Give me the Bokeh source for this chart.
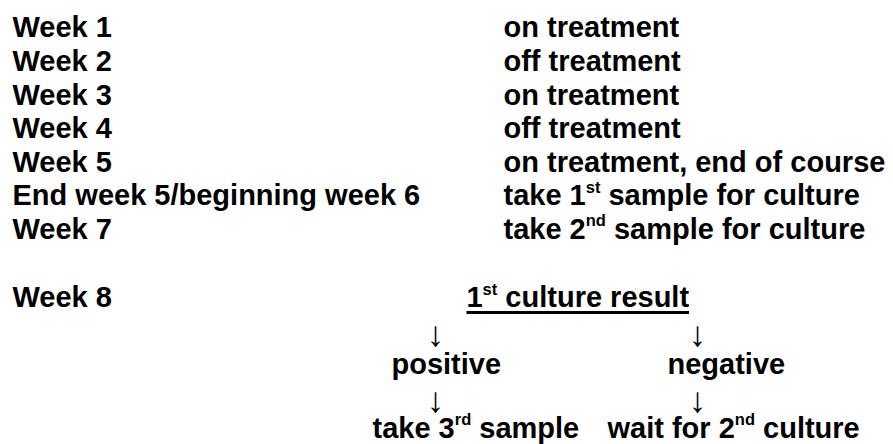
import re
from bokeh.plotting import figure
from bokeh.models import Range1d, ColumnDataSource
from bokeh.core.properties import value
from bokeh.embed import file_html
from bokeh.resources import INLINE

# ---------------- content ----------------
week_labels = ["Week 1", "Week 2", "Week 3", "Week 4", "Week 5",
               "End week 5/beginning week 6", "Week 7"]
week_events = ["on treatment", "off treatment", "on treatment", "off treatment",
               "on treatment, end of course",
               "take 1^{st} sample for culture",
               "take 2^{nd} sample for culture"]
week8_label = "Week 8"
result_title = "1^{st} culture result"
outcomes = ["positive", "negative"]
next_steps = ["take 3^{rd} sample", "wait for 2^{nd} culture"]
arrow = "\u2193"

# ---------------- layout / style ----------------
W, H = 893, 444
FONT = "Liberation Sans"
SIZE = 29
SUP_SIZE = 16.5
SUP_RISE = 13
ARROW_SIZE = 35
MID = 0.3465          # text anchor sits this many em above the drawn baseline
LEFT_X = 12
RIGHT_X = 503
ROW0 = 37
ROW_DY = 33.6
WEEK8_Y = 307
TITLE_X = 466
ARROW_X = [435, 697]
ARROW_Y = [332.5, 398.5]
OUTCOME_X = [391, 667]
OUTCOME_Y = 374
STEP_X = [372, 607]
STEP_Y = 437.5

# Arial/Liberation Sans Bold advance widths (per 1000 em)
ADV = {" ": 278, ",": 278, "/": 278,
       "a": 556, "b": 611, "c": 556, "d": 611, "e": 556, "f": 333, "g": 611,
       "h": 611, "i": 278, "k": 556, "l": 278, "m": 889, "n": 611, "o": 611,
       "p": 611, "r": 389, "s": 556, "t": 333, "u": 611, "v": 556, "w": 778,
       "E": 667, "W": 944}


def adv(s, size):
    return sum(ADV.get(c, 556) for c in s) * size / 1000.0


def segments(txt):
    parts = re.split(r"\^\{([^}]*)\}", txt)
    return [(p_, i % 2 == 1) for i, p_ in enumerate(parts) if p_]


main = dict(x=[], y=[], text=[])
sup = dict(x=[], y=[], text=[])


def place(txt, x, baseline):
    for t, s in segments(txt):
        size = SUP_SIZE if s else SIZE
        stripped = t.lstrip(" ")
        x += adv(t[:len(t) - len(stripped)], size)
        d = sup if s else main
        b = baseline - SUP_RISE if s else baseline
        d["x"].append(x)
        d["y"].append(b - MID * size)
        d["text"].append(stripped)
        x += adv(stripped, size)
    return x


for i, (lab, ev) in enumerate(zip(week_labels, week_events)):
    y = ROW0 + i * ROW_DY
    place(lab, LEFT_X, y)
    place(ev, RIGHT_X, y)

place(week8_label, LEFT_X, WEEK8_Y)
title_end = place(result_title, TITLE_X, WEEK8_Y)
for txt, x in zip(outcomes, OUTCOME_X):
    place(txt, x, OUTCOME_Y)
for txt, x in zip(next_steps, STEP_X):
    place(txt, x, STEP_Y)

p = figure(width=W, height=H, x_range=Range1d(0, W), y_range=Range1d(H, 0),
           x_axis_type=None, y_axis_type=None, toolbar_location=None, title=None,
           output_backend="svg", min_border=0, outline_line_color=None,
           background_fill_color="white", border_fill_color="white")
p.grid.visible = False

p.text(x="x", y="y", text="text", source=ColumnDataSource(main),
       text_font=value(FONT), text_font_size=f"{SIZE}px", text_font_style="bold",
       text_color="black", text_align="left", text_baseline="alphabetic")
p.text(x="x", y="y", text="text", source=ColumnDataSource(sup),
       text_font=value(FONT), text_font_size=f"{SUP_SIZE}px", text_font_style="bold",
       text_color="black", text_align="left", text_baseline="alphabetic")

# underline of the culture-result heading
uy = WEEK8_Y + 5
p.segment(x0=[TITLE_X], y0=[uy], x1=[title_end], y1=[uy],
          line_color="black", line_width=3)

# arrows
ax, ay = [], []
for y in ARROW_Y:
    for x in ARROW_X:
        ax.append(x)
        ay.append(y)
p.text(x=ax, y=ay, text=[arrow] * len(ax), text_font=value(FONT),
       text_font_size=f"{ARROW_SIZE}px", text_color="black",
       text_align="center", text_baseline="alphabetic")

open("out.html", "w").write(file_html(p, INLINE))
